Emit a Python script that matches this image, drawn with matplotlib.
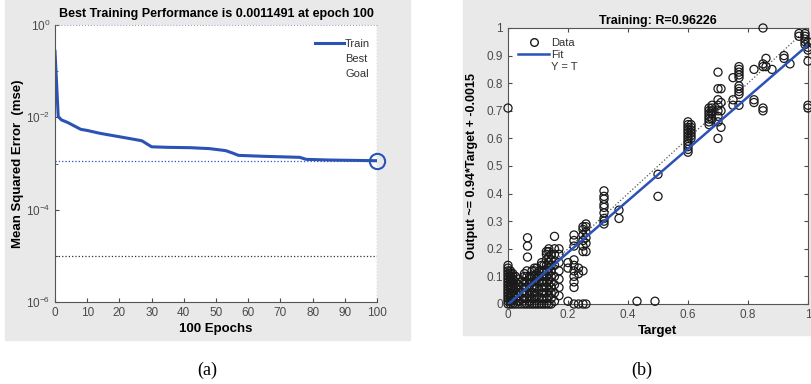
import matplotlib.pyplot as plt
from matplotlib.lines import Line2D
from matplotlib.patches import Rectangle
from matplotlib.ticker import NullFormatter

plt.rcParams['font.family'] = ['Liberation Sans', 'DejaVu Sans']

# ---- panel (a): training performance ----
epochs = [0, 1, 2, 4, 6, 8, 10, 14, 20, 26, 27, 30, 35, 42, 48, 53, 55, 57, 65, 76, 78, 85, 100]
train_mse = [0.269, 0.0104, 0.0088, 0.0077, 0.0065, 0.0055, 0.0052, 0.0045, 0.0038, 0.0032, 0.0031,
             0.0023, 0.00224, 0.0022, 0.0021, 0.0019, 0.0017, 0.0015, 0.00143, 0.00136, 0.00123,
             0.00119, 0.0011491]
best_epoch = 100
best_mse = 0.0011491
goal_mse = 1e-5
perf_title = "Best Training Performance is 0.0011491 at epoch 100"

# ---- panel (b): regression (target, outputs) columns ----
scatter_columns = [
    (0.000, [0.0, 0.01, 0.02, 0.03, 0.04, 0.05, 0.06, 0.07, 0.08, 0.09, 0.10, 0.11, 0.12, 0.13, 0.14, 0.71]),
    (0.008, [0.0, 0.01, 0.02, 0.03, 0.04, 0.05, 0.06, 0.07, 0.08, 0.09, 0.10, 0.11, 0.12]),
    (0.016, [0.0, 0.015, 0.03, 0.045, 0.06, 0.075, 0.09, 0.10, 0.11]),
    (0.025, [0.0, 0.02, 0.04, 0.06, 0.08, 0.10]),
    (0.035, [0.0, 0.01, 0.03, 0.05, 0.07, 0.09]),
    (0.045, [0.0, 0.02, 0.04, 0.06, 0.08]),
    (0.055, [0.0, 0.02, 0.04, 0.06, 0.08, 0.10, 0.11]),
    (0.063, [0.0, 0.02, 0.04, 0.06, 0.08, 0.10, 0.12]),
    (0.065, [0.17, 0.21, 0.24]),
    (0.072, [0.0, 0.01, 0.03, 0.05, 0.07, 0.09, 0.10]),
    (0.080, [0.0, 0.02, 0.04, 0.06, 0.08, 0.10, 0.12]),
    (0.088, [0.0, 0.02, 0.04, 0.06, 0.08, 0.10, 0.12, 0.13]),
    (0.096, [0.0, 0.03, 0.06, 0.09, 0.11, 0.13]),
    (0.104, [0.0, 0.02, 0.05, 0.08, 0.10, 0.12]),
    (0.112, [0.0, 0.02, 0.04, 0.06, 0.08, 0.10, 0.12, 0.14, 0.15]),
    (0.120, [0.0, 0.02, 0.04, 0.06, 0.08, 0.10, 0.12, 0.14]),
    (0.128, [0.0, 0.02, 0.04, 0.06, 0.08, 0.10, 0.12, 0.14, 0.16, 0.18, 0.19]),
    (0.136, [0.0, 0.03, 0.05, 0.07, 0.09, 0.11, 0.13, 0.15, 0.17, 0.19, 0.20]),
    (0.144, [0.0, 0.02, 0.04, 0.06, 0.08, 0.10, 0.12, 0.14, 0.16, 0.18]),
    (0.155, [0.01, 0.04, 0.07, 0.10, 0.14, 0.18, 0.20, 0.245]),
    (0.170, [0.03, 0.06, 0.09, 0.12, 0.15, 0.18, 0.20]),
    (0.200, [0.01, 0.13, 0.15]),
    (0.220, [0.0, 0.06, 0.08, 0.10, 0.12, 0.14, 0.16, 0.21, 0.23, 0.25]),
    (0.235, [0.0, 0.11, 0.13]),
    (0.250, [0.0, 0.12, 0.19, 0.21, 0.23, 0.25, 0.27, 0.28]),
    (0.260, [0.0, 0.19, 0.22, 0.24, 0.26, 0.28, 0.29]),
    (0.320, [0.29, 0.30, 0.31, 0.33, 0.35, 0.36, 0.38, 0.39, 0.41]),
    (0.370, [0.31, 0.34]),
    (0.430, [0.01]),
    (0.490, [0.01]),
    (0.500, [0.39, 0.47]),
    (0.600, [0.55, 0.56, 0.57, 0.58, 0.59, 0.60, 0.61, 0.62, 0.63, 0.64, 0.65, 0.66]),
    (0.610, [0.60, 0.61, 0.62, 0.63, 0.64, 0.65]),
    (0.670, [0.65, 0.66, 0.67, 0.68, 0.69, 0.70, 0.71]),
    (0.680, [0.67, 0.69, 0.70, 0.71, 0.72]),
    (0.700, [0.60, 0.66, 0.68, 0.70, 0.72, 0.74, 0.78, 0.84]),
    (0.710, [0.64, 0.70, 0.73, 0.78]),
    (0.750, [0.72, 0.74, 0.82]),
    (0.770, [0.72, 0.76, 0.77, 0.78, 0.79, 0.82, 0.83, 0.84, 0.85, 0.86]),
    (0.820, [0.73, 0.74, 0.85]),
    (0.850, [0.70, 0.71, 0.86, 0.87, 1.0]),
    (0.860, [0.86, 0.89]),
    (0.880, [0.85]),
    (0.920, [0.89, 0.90]),
    (0.940, [0.87]),
    (0.970, [0.97, 0.98]),
    (0.990, [0.94, 0.95, 0.96, 0.97, 0.98]),
    (1.000, [0.71, 0.72, 0.88, 0.92, 0.93, 0.95]),
]
fit_slope = 0.94
fit_offset = -0.0015
reg_title = "Training: R=0.96226"
reg_ylabel = "Output ~= 0.94*Target + -0.0015"

targets = [t for t, outs in scatter_columns for _ in outs]
outputs = [o for _, outs in scatter_columns for o in outs]

BLUE = '#2b52b5'
GRAY_TXT = '#4a4a4a'
BG = '#e9e9e9'

fig = plt.figure(figsize=(8.12, 3.84), dpi=100)
W, H = 812, 384
# grey figure panels behind the axes
fig.patches.append(Rectangle((5 / W, (H - 340) / H), 405 / W, 340 / H,
                             transform=fig.transFigure, color=BG, zorder=-5))
fig.patches.append(Rectangle((463 / W, (H - 335) / H), 349 / W, 335 / H,
                             transform=fig.transFigure, color=BG, zorder=-5))

# ---------------- (a) ----------------
ax1 = fig.add_axes([55 / W, (H - 302) / H, 322 / W, 277 / H])
ax1.semilogy(epochs, train_mse, color=BLUE, lw=2.2, label='Train')
ax1.axhline(best_mse, color=BLUE, ls=':', lw=0.9)
ax1.axvline(best_epoch, color=BLUE, ls=':', lw=0.9)
ax1.axhline(goal_mse, color='#333333', ls=':', lw=0.9)
ax1.plot([best_epoch], [best_mse], 'o', mfc='none', mec=BLUE, mew=1.5, ms=11, clip_on=False)
ax1.set_xlim(0, 100)
ax1.set_ylim(1e-6, 1)
ax1.set_xticks(range(0, 101, 10))
ax1.set_yticks([1e-6, 1e-4, 1e-2, 1])
ax1.set_yticks([1e-5, 1e-3, 1e-1], minor=True)
ax1.yaxis.set_minor_formatter(NullFormatter())
ax1.tick_params(direction='in', labelsize=8.5, colors=GRAY_TXT, length=3)
ax1.tick_params(which='minor', direction='in', length=2, colors=GRAY_TXT)
for s in ['top', 'right']:
    ax1.spines[s].set_visible(False)
for s in ['left', 'bottom']:
    ax1.spines[s].set_color('#555555')
ax1.plot([0, 100], [1, 1], ls=':', color='#9aa6c8', lw=0.8, clip_on=False)
ax1.set_title(perf_title, fontsize=9, fontweight='bold', pad=6)
ax1.set_xlabel('100 Epochs', fontsize=9.5, fontweight='bold', labelpad=3)
ax1.set_ylabel('Mean Squared Error  (mse)', fontsize=9.5, fontweight='bold')
ax1.yaxis.set_label_coords(-0.095, 0.5)
leg1 = ax1.legend(handles=[Line2D([], [], color=BLUE, lw=2.2),
                           Line2D([], [], ls='none'),
                           Line2D([], [], ls='none')],
                  labels=['Train', 'Best', 'Goal'], loc='upper right',
                  bbox_to_anchor=(1.01, 0.985), frameon=False, fontsize=8,
                  handlelength=2.6, handletextpad=0.1, labelspacing=0.45)
for t in leg1.get_texts():
    t.set_color('#333333')
fig.text(207 / W, (H - 370) / H, '(a)', ha='center', va='center', fontsize=13,
         family=['Liberation Serif', 'DejaVu Serif'])

# ---------------- (b) ----------------
ax2 = fig.add_axes([508 / W, (H - 304) / H, 300 / W, 276 / H])
ax2.scatter(targets, outputs, s=34, facecolors='none', edgecolors='#1a1a1a',
            linewidths=0.9, clip_on=False, zorder=3)
ax2.plot([0, 1], [fit_offset, fit_slope + fit_offset], color=BLUE, lw=1.8, zorder=4)
ax2.plot([0, 1], [0, 1], ls=':', color='#555555', lw=0.9, zorder=2)
ax2.set_xlim(0, 1)
ax2.set_ylim(0, 1)
ax2.set_xticks([0, 0.2, 0.4, 0.6, 0.8, 1])
ax2.set_xticklabels(['0', '0.2', '0.4', '0.6', '0.8', '1'])
ax2.set_yticks([0, 0.1, 0.2, 0.3, 0.4, 0.5, 0.6, 0.7, 0.8, 0.9, 1])
ax2.set_yticklabels(['0', '0.1', '0.2', '0.3', '0.4', '0.5', '0.6', '0.7', '0.8', '0.9', '1'])
ax2.tick_params(direction='in', labelsize=8.5, colors=GRAY_TXT, length=3, top=True, right=True)
for s in ax2.spines.values():
    s.set_color('#555555')
ax2.set_title(reg_title, fontsize=9, fontweight='bold', pad=3)
ax2.set_xlabel('Target', fontsize=9.5, fontweight='bold', labelpad=3)
ax2.set_ylabel(reg_ylabel, fontsize=9, fontweight='bold')
ax2.yaxis.set_label_coords(-0.1, 0.5)
leg2 = ax2.legend(handles=[Line2D([], [], ls='none', marker='o', mfc='none', mec='#1a1a1a', ms=5.5),
                           Line2D([], [], color=BLUE, lw=1.8),
                           Line2D([], [], ls='none')],
                  labels=['Data', 'Fit', 'Y = T'], loc='upper left',
                  bbox_to_anchor=(0.0, 1.0), frameon=False, fontsize=8,
                  handlelength=2.8, handletextpad=0.2, labelspacing=0.2)
for t in leg2.get_texts():
    t.set_color('#333333')
fig.text(642 / W, (H - 370) / H, '(b)', ha='center', va='center', fontsize=13,
         family=['Liberation Serif', 'DejaVu Serif'])

fig.savefig('out.png', dpi=100)
